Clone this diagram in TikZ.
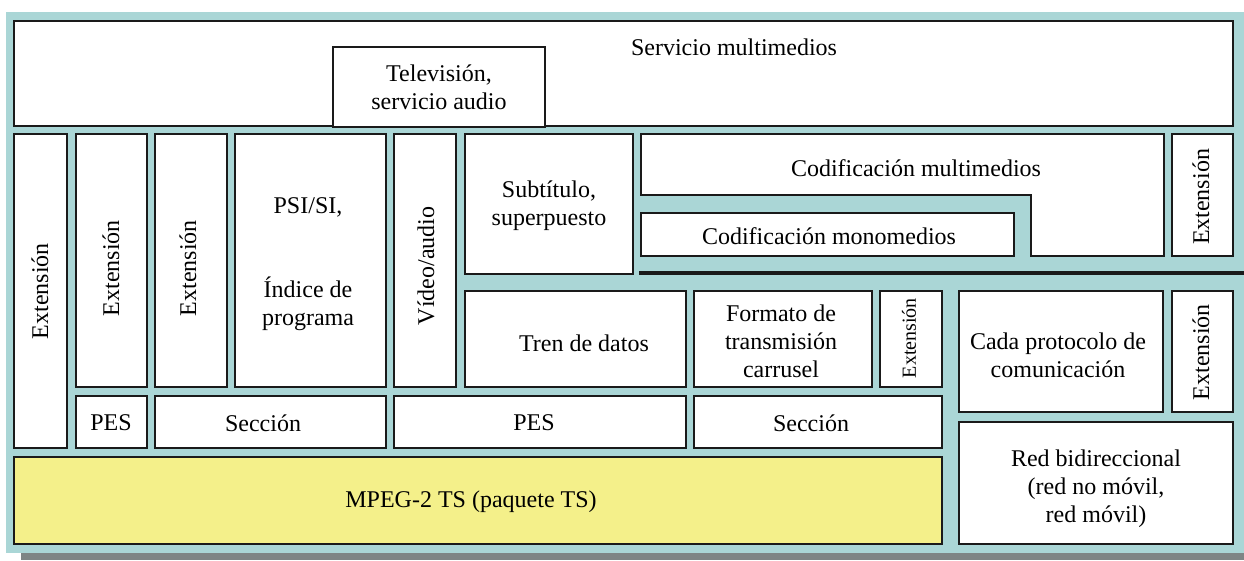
\documentclass[tikz,border=0pt]{standalone}
\usepackage{fontspec}
\setmainfont{Liberation Serif}
\definecolor{teal0}{HTML}{AAD6D6}
\definecolor{shad}{HTML}{7E8585}
\definecolor{yel}{HTML}{F4F08A}
\definecolor{edge}{HTML}{1A1A1A}
\newcommand{\bx}[5]{\node[box,minimum width={#4-#2},minimum height={#5-#3}] (#1) at ({(#2+#4)/2},{(#3+#5)/2}) {};}
\begin{document}
\begin{tikzpicture}[x=1pt,y=-1pt,
  box/.style={draw=edge,fill=white,line width=1.8pt,inner sep=0pt,outer sep=0pt},
  txt/.style={align=center,font=\fontsize{24}{28}\selectfont,inner sep=0pt},
  vtxt/.style={txt,rotate=90},
  vsmall/.style={rotate=90,inner sep=0pt,font=\fontsize{20}{24}\selectfont}]
\useasboundingbox (0,0) rectangle (1244,560);
\fill[shad] (21,553) rectangle (1244,560);
\fill[teal0] (6,12) rectangle (1244,553);
% top
\bx{serv}{14}{21}{1233}{126}
\node[txt] (t-serv) at (734,47) {Servicio multimedios};
\bx{tele}{333}{47}{545}{127}
\node[txt] (t-tele) at (439,87) {Televisión,\\servicio audio};
% columns
\bx{ext1}{14}{134}{67}{448}
\node[vtxt] (t-ext1) at (40,291) {Extensión};
\bx{ext2}{76}{134}{147}{387}
\node[vtxt] (t-ext2) at (111,268) {Extensión};
\bx{ext3}{155}{134}{227}{387}
\node[vtxt] (t-ext3) at (188,268) {Extensión};
\bx{psi}{235}{134}{386}{387}
\node[txt] (t-psi) at (308,264) {PSI/SI,\\[56pt]Índice de\\programa};
\bx{vid}{394}{134}{456}{387}
\node[vtxt] (t-vid) at (426,266) {Vídeo/audio};
\bx{subt}{465}{134}{633}{274}
\node[txt] (t-subt) at (549,206) {Subtítulo,\\superpuesto};
\draw[draw=edge,fill=white,line width=1.8pt] (641,134) -- (1164,134) -- (1164,256) -- (1031,256) -- (1031,195) -- (641,195) -- cycle;
\node[txt] (t-multi) at (916,168) {Codificación multimedios};
\bx{mono}{641}{213}{1014}{256}
\node[txt] (t-mono) at (829,236) {Codificación monomedios};
\bx{extA}{1172}{134}{1233}{256}
\node[vtxt] (t-extA) at (1201,197) {Extensión};
\draw[draw=edge,line width=4pt] (639,273) -- (1244,273);
% middle row
\bx{tren}{465}{291}{686}{387}
\node[txt] (t-tren) at (584,343) {Tren de datos};
\bx{form}{694}{291}{872}{387}
\node[txt] (t-form) at (781,341) {Formato de\\transmisión\\carrusel};
\bx{extB}{880}{291}{942}{387}
\node[vsmall] (t-extB) at (909,338) {Extensión};
\bx{cada}{959}{291}{1163}{412}
\node[txt] (t-cada) at (1058,355) {Cada protocolo de\\comunicación};
\bx{extC}{1172}{291}{1233}{412}
\node[vtxt] (t-extC) at (1201,352) {Extensión};
% lower row
\bx{pes1}{76}{396}{147}{448}
\node[txt] (t-pes1) at (111,423) {PES};
\bx{sec1}{155}{396}{386}{448}
\node[txt] (t-sec1) at (263,423) {Sección};
\bx{pes2}{394}{396}{686}{448}
\node[txt] (t-pes2) at (534,423) {PES};
\bx{sec2}{694}{396}{942}{448}
\node[txt] (t-sec2) at (811,423) {Sección};
\node[box,fill=yel,minimum width=928,minimum height=87] (mpeg) at (478,500.5) {};
\node[txt] (t-mpeg) at (471,502) {MPEG-2 TS (paquete TS)};
\bx{red}{959}{422}{1233}{544}
\node[txt] (t-red) at (1096,489) {Red bidireccional\\(red no móvil,\\red móvil)};
\end{tikzpicture}
\end{document}
